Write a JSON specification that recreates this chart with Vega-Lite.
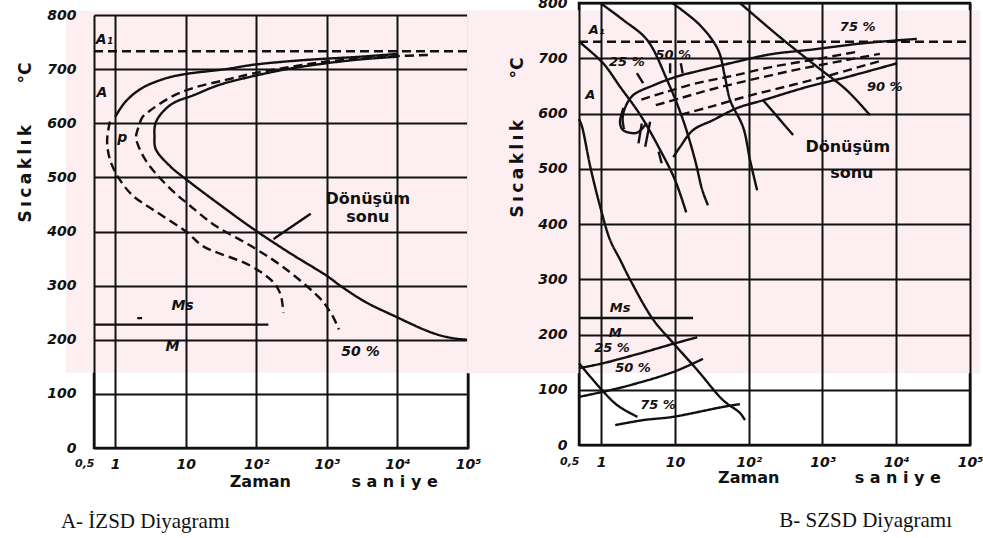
{
  "$schema": "https://vega.github.io/schema/vega-lite/v6.json",
  "background": "white",
  "padding": {"left": 14, "top": -6, "right": 0, "bottom": 0},
  "spacing": -18,
  "config": {
    "view": {"stroke": "#111", "strokeWidth": 2.5},
    "axis": {
      "grid": true, "gridColor": "#111", "gridWidth": 2, "gridOpacity": 1,
      "ticks": false, "domain": false, "labelOverlap": false,
      "labelFont": "DejaVu Sans", "labelFontStyle": "italic", "labelFontWeight": "bold",
      "labelFontSize": 14, "labelColor": "#111",
      "titleFont": "DejaVu Sans", "titleFontWeight": "bold", "titleFontSize": 17, "titleColor": "#111"
    },
    "text": {"font": "DejaVu Sans", "color": "#111"}
  },
  "datasets": {
    "izsd_tint": [{"t": 0.2, "t2": 143000, "T": 139, "T2": 808}],
    "szsd_tint": [{"t": 0.0152, "t2": 136000, "T": 130, "T2": 787}],
    "izsd_curves": [
      {"curve": "c1u", "style": "solid", "t": 1.0, "T": 612},
      {"curve": "c1u", "style": "solid", "t": 1.4, "T": 640},
      {"curve": "c1u", "style": "solid", "t": 2.4, "T": 665},
      {"curve": "c1u", "style": "solid", "t": 5.2, "T": 683},
      {"curve": "c1u", "style": "solid", "t": 10, "T": 691},
      {"curve": "c1u", "style": "solid", "t": 37, "T": 700},
      {"curve": "c1u", "style": "solid", "t": 90, "T": 708},
      {"curve": "c1u", "style": "solid", "t": 400, "T": 716},
      {"curve": "c1u", "style": "solid", "t": 3000, "T": 723},
      {"curve": "c1u", "style": "solid", "t": 10000, "T": 728},
      {"curve": "c1l", "style": "dashed", "t": 0.84, "T": 603},
      {"curve": "c1l", "style": "dashed", "t": 0.78, "T": 580},
      {"curve": "c1l", "style": "dashed", "t": 0.77, "T": 560},
      {"curve": "c1l", "style": "dashed", "t": 0.86, "T": 529},
      {"curve": "c1l", "style": "dashed", "t": 1.13, "T": 498},
      {"curve": "c1l", "style": "dashed", "t": 1.75, "T": 467},
      {"curve": "c1l", "style": "dashed", "t": 3.85, "T": 436},
      {"curve": "c1l", "style": "dashed", "t": 10.3, "T": 399},
      {"curve": "c1l", "style": "dashed", "t": 17.5, "T": 373},
      {"curve": "c1l", "style": "dashed", "t": 82, "T": 337},
      {"curve": "c1l", "style": "dashed", "t": 175, "T": 306},
      {"curve": "c1l", "style": "dashed", "t": 220, "T": 284},
      {"curve": "c1l", "style": "dashed", "t": 235, "T": 265},
      {"curve": "c1l", "style": "dashed", "t": 242, "T": 250},
      {"curve": "c2", "style": "dashed", "t": 27000, "T": 726},
      {"curve": "c2", "style": "dashed", "t": 10000, "T": 724},
      {"curve": "c2", "style": "dashed", "t": 1000, "T": 714},
      {"curve": "c2", "style": "dashed", "t": 300, "T": 704},
      {"curve": "c2", "style": "dashed", "t": 90, "T": 692},
      {"curve": "c2", "style": "dashed", "t": 37, "T": 680},
      {"curve": "c2", "style": "dashed", "t": 12.6, "T": 665},
      {"curve": "c2", "style": "dashed", "t": 6.5, "T": 650},
      {"curve": "c2", "style": "dashed", "t": 3.4, "T": 627},
      {"curve": "c2", "style": "dashed", "t": 2.45, "T": 612},
      {"curve": "c2", "style": "dashed", "t": 2.15, "T": 594},
      {"curve": "c2", "style": "dashed", "t": 1.97, "T": 575},
      {"curve": "c2", "style": "dashed", "t": 2.1, "T": 560},
      {"curve": "c2", "style": "dashed", "t": 2.6, "T": 535},
      {"curve": "c2", "style": "dashed", "t": 3.6, "T": 510},
      {"curve": "c2", "style": "dashed", "t": 6.5, "T": 475},
      {"curve": "c2", "style": "dashed", "t": 11.4, "T": 448},
      {"curve": "c2", "style": "dashed", "t": 26, "T": 411},
      {"curve": "c2", "style": "dashed", "t": 82, "T": 374},
      {"curve": "c2", "style": "dashed", "t": 242, "T": 334},
      {"curve": "c2", "style": "dashed", "t": 820, "T": 275},
      {"curve": "c2", "style": "dashed", "t": 1030, "T": 258},
      {"curve": "c2", "style": "dashed", "t": 1250, "T": 240},
      {"curve": "c2", "style": "dashed", "t": 1480, "T": 219},
      {"curve": "c3", "style": "solid", "t": 10000, "T": 723},
      {"curve": "c3", "style": "solid", "t": 3000, "T": 718},
      {"curve": "c3", "style": "solid", "t": 1000, "T": 711},
      {"curve": "c3", "style": "solid", "t": 300, "T": 701},
      {"curve": "c3", "style": "solid", "t": 90, "T": 687},
      {"curve": "c3", "style": "solid", "t": 30, "T": 671},
      {"curve": "c3", "style": "solid", "t": 13, "T": 652},
      {"curve": "c3", "style": "solid", "t": 6.6, "T": 637},
      {"curve": "c3", "style": "solid", "t": 4.5, "T": 618},
      {"curve": "c3", "style": "solid", "t": 3.8, "T": 603},
      {"curve": "c3", "style": "solid", "t": 3.6, "T": 590},
      {"curve": "c3", "style": "solid", "t": 3.6, "T": 578},
      {"curve": "c3", "style": "solid", "t": 3.73, "T": 553},
      {"curve": "c3", "style": "solid", "t": 5.84, "T": 522},
      {"curve": "c3", "style": "solid", "t": 10.2, "T": 496},
      {"curve": "c3", "style": "solid", "t": 30, "T": 450},
      {"curve": "c3", "style": "solid", "t": 90, "T": 405},
      {"curve": "c3", "style": "solid", "t": 300, "T": 360},
      {"curve": "c3", "style": "solid", "t": 1000, "T": 318},
      {"curve": "c3", "style": "solid", "t": 1580, "T": 299},
      {"curve": "c3", "style": "solid", "t": 3500, "T": 270},
      {"curve": "c3", "style": "solid", "t": 9000, "T": 244},
      {"curve": "c3", "style": "solid", "t": 30800, "T": 213},
      {"curve": "c3", "style": "solid", "t": 60000, "T": 203},
      {"curve": "c3", "style": "solid", "t": 100000, "T": 200},
      {"curve": "ms", "style": "solid", "t": 0.5, "T": 228},
      {"curve": "ms", "style": "solid", "t": 148, "T": 228},
      {"curve": "msdot", "style": "solid", "t": 2.05, "T": 240},
      {"curve": "msdot", "style": "solid", "t": 2.4, "T": 240},
      {"curve": "a1", "style": "dashed", "t": 0.5, "T": 733},
      {"curve": "a1", "style": "dashed", "t": 100000, "T": 733},
      {"curve": "ptr", "style": "solid", "t": 591, "T": 433},
      {"curve": "ptr", "style": "solid", "t": 175, "T": 386}
    ],
    "izsd_text": [
      {"kind": "curve", "text": "A₁", "t": 0.7, "T": 754},
      {"kind": "curve", "text": "A", "t": 0.65, "T": 655},
      {"kind": "curve", "text": "p", "t": 1.26, "T": 572},
      {"kind": "curve", "text": "Ms", "t": 9, "T": 262},
      {"kind": "curve", "text": "M", "t": 6.5, "T": 187},
      {"kind": "curve", "text": "50 %", "t": 3000, "T": 178},
      {"kind": "note", "text": "Dönüşüm", "t": 3800, "T": 460},
      {"kind": "note", "text": "sonu", "t": 3800, "T": 427},
      {"kind": "axis", "text": "Zaman", "t": 114, "T": -63},
      {"kind": "axis", "text": "s a n i y e", "t": 9100, "T": -63}
    ],
    "izsd_caption": [
      {"text": "A- İZSD Diyagramı", "t": 0.17, "T": -147}
    ],
    "szsd_curves": [
      {"curve": "cc0", "style": "solid", "t": 0.5, "T": 148},
      {"curve": "cc0", "style": "solid", "t": 0.97, "T": 103},
      {"curve": "cc0", "style": "solid", "t": 1.65, "T": 72},
      {"curve": "cc0", "style": "solid", "t": 3.1, "T": 51},
      {"curve": "cc1", "style": "solid", "t": 0.5, "T": 590},
      {"curve": "cc1", "style": "solid", "t": 0.55, "T": 576},
      {"curve": "cc1", "style": "solid", "t": 0.71, "T": 504},
      {"curve": "cc1", "style": "solid", "t": 0.97, "T": 431},
      {"curve": "cc1", "style": "solid", "t": 1.32, "T": 371},
      {"curve": "cc1", "style": "solid", "t": 1.81, "T": 335},
      {"curve": "cc1", "style": "solid", "t": 2.47, "T": 299},
      {"curve": "cc1", "style": "solid", "t": 5, "T": 228},
      {"curve": "cc1", "style": "solid", "t": 9.4, "T": 185},
      {"curve": "cc1", "style": "solid", "t": 20, "T": 136},
      {"curve": "cc1", "style": "solid", "t": 45, "T": 81},
      {"curve": "cc1", "style": "solid", "t": 76, "T": 58},
      {"curve": "cc1", "style": "solid", "t": 89, "T": 45},
      {"curve": "cc2", "style": "solid", "t": 0.5, "T": 730},
      {"curve": "cc2", "style": "solid", "t": 1.06, "T": 691},
      {"curve": "cc2", "style": "solid", "t": 1.81, "T": 648},
      {"curve": "cc2", "style": "solid", "t": 3.4, "T": 597},
      {"curve": "cc2", "style": "solid", "t": 6.3, "T": 534},
      {"curve": "cc2", "style": "solid", "t": 10, "T": 480},
      {"curve": "cc2", "style": "solid", "t": 14.2, "T": 421},
      {"curve": "cc3", "style": "solid", "t": 0.97, "T": 800},
      {"curve": "cc3", "style": "solid", "t": 2, "T": 769},
      {"curve": "cc3", "style": "solid", "t": 4.2, "T": 733},
      {"curve": "cc3", "style": "solid", "t": 7.8, "T": 661},
      {"curve": "cc3", "style": "solid", "t": 12.9, "T": 588},
      {"curve": "cc3", "style": "solid", "t": 18.7, "T": 516},
      {"curve": "cc3", "style": "solid", "t": 23.4, "T": 462},
      {"curve": "cc3", "style": "solid", "t": 28, "T": 434},
      {"curve": "cc4", "style": "solid", "t": 9.2, "T": 800},
      {"curve": "cc4", "style": "solid", "t": 21.8, "T": 760},
      {"curve": "cc4", "style": "solid", "t": 38.5, "T": 715},
      {"curve": "cc4", "style": "solid", "t": 47, "T": 670},
      {"curve": "cc4", "style": "solid", "t": 56, "T": 624},
      {"curve": "cc4", "style": "solid", "t": 84, "T": 575},
      {"curve": "cc4", "style": "solid", "t": 104, "T": 516},
      {"curve": "cc4", "style": "solid", "t": 130, "T": 461},
      {"curve": "cc5", "style": "solid", "t": 76, "T": 800},
      {"curve": "cc5", "style": "solid", "t": 266, "T": 738},
      {"curve": "cc5", "style": "solid", "t": 836, "T": 685},
      {"curve": "cc5", "style": "solid", "t": 2140, "T": 642},
      {"curve": "cc5", "style": "solid", "t": 4400, "T": 597},
      {"curve": "start", "style": "solid", "t": 2.05, "T": 572},
      {"curve": "start", "style": "solid", "t": 1.95, "T": 590},
      {"curve": "start", "style": "solid", "t": 2.1, "T": 610},
      {"curve": "start", "style": "solid", "t": 2.7, "T": 633},
      {"curve": "start", "style": "solid", "t": 5.1, "T": 651},
      {"curve": "start", "style": "solid", "t": 10.7, "T": 667},
      {"curve": "start", "style": "solid", "t": 24, "T": 679},
      {"curve": "start", "style": "solid", "t": 70, "T": 694},
      {"curve": "start", "style": "solid", "t": 195, "T": 707},
      {"curve": "start", "style": "solid", "t": 750, "T": 716},
      {"curve": "start", "style": "solid", "t": 3500, "T": 727},
      {"curve": "start", "style": "solid", "t": 19000, "T": 735},
      {"curve": "end", "style": "solid", "t": 9.5, "T": 521},
      {"curve": "end", "style": "solid", "t": 11.8, "T": 540},
      {"curve": "end", "style": "solid", "t": 17.6, "T": 570},
      {"curve": "end", "style": "solid", "t": 32.8, "T": 588},
      {"curve": "end", "style": "solid", "t": 70, "T": 610},
      {"curve": "end", "style": "solid", "t": 157, "T": 624},
      {"curve": "end", "style": "solid", "t": 616, "T": 648},
      {"curve": "end", "style": "solid", "t": 2140, "T": 666},
      {"curve": "end", "style": "solid", "t": 10300, "T": 691},
      {"curve": "d25", "style": "dashed", "t": 3.5, "T": 625},
      {"curve": "d25", "style": "dashed", "t": 8, "T": 640},
      {"curve": "d25", "style": "dashed", "t": 20, "T": 655},
      {"curve": "d25", "style": "dashed", "t": 60, "T": 668},
      {"curve": "d25", "style": "dashed", "t": 200, "T": 684},
      {"curve": "d25", "style": "dashed", "t": 800, "T": 698},
      {"curve": "d25", "style": "dashed", "t": 3000, "T": 712},
      {"curve": "d50", "style": "dashed", "t": 5.5, "T": 615},
      {"curve": "d50", "style": "dashed", "t": 12, "T": 628},
      {"curve": "d50", "style": "dashed", "t": 30, "T": 643},
      {"curve": "d50", "style": "dashed", "t": 100, "T": 660},
      {"curve": "d50", "style": "dashed", "t": 400, "T": 678},
      {"curve": "d50", "style": "dashed", "t": 1500, "T": 693},
      {"curve": "d50", "style": "dashed", "t": 6000, "T": 708},
      {"curve": "d75", "style": "dashed", "t": 12, "T": 598},
      {"curve": "d75", "style": "dashed", "t": 30, "T": 612},
      {"curve": "d75", "style": "dashed", "t": 100, "T": 632},
      {"curve": "d75", "style": "dashed", "t": 400, "T": 652},
      {"curve": "d75", "style": "dashed", "t": 1500, "T": 672},
      {"curve": "d75", "style": "dashed", "t": 6000, "T": 695},
      {"curve": "box", "style": "solid", "t": 2.0, "T": 610},
      {"curve": "box", "style": "solid", "t": 1.91, "T": 601},
      {"curve": "box", "style": "solid", "t": 1.8, "T": 583},
      {"curve": "box", "style": "solid", "t": 1.98, "T": 570},
      {"curve": "box", "style": "solid", "t": 3.03, "T": 565},
      {"curve": "box", "style": "solid", "t": 4.14, "T": 583},
      {"curve": "h1", "style": "solid", "t": 3.55, "T": 582},
      {"curve": "h1", "style": "solid", "t": 3.2, "T": 546},
      {"curve": "h2", "style": "solid", "t": 4.6, "T": 585},
      {"curve": "h2", "style": "solid", "t": 3.95, "T": 540},
      {"curve": "h3", "style": "solid", "t": 6.0, "T": 531},
      {"curve": "h3", "style": "solid", "t": 6.6, "T": 510},
      {"curve": "tick25", "style": "solid", "t": 3.05, "T": 673},
      {"curve": "tick25", "style": "solid", "t": 3.7, "T": 655},
      {"curve": "tick50a", "style": "solid", "t": 8.6, "T": 691},
      {"curve": "tick50a", "style": "solid", "t": 8.6, "T": 673},
      {"curve": "tick50b", "style": "solid", "t": 12, "T": 691},
      {"curve": "tick50b", "style": "solid", "t": 12.7, "T": 673},
      {"curve": "ms", "style": "solid", "t": 0.5, "T": 230},
      {"curve": "ms", "style": "solid", "t": 17.6, "T": 230},
      {"curve": "a1", "style": "dashed", "t": 0.5, "T": 730},
      {"curve": "a1", "style": "dashed", "t": 100000, "T": 730},
      {"curve": "m25", "style": "solid", "t": 0.5, "T": 139},
      {"curve": "m25", "style": "solid", "t": 1.06, "T": 148},
      {"curve": "m25", "style": "solid", "t": 3.4, "T": 166},
      {"curve": "m25", "style": "solid", "t": 9.4, "T": 183},
      {"curve": "m25", "style": "solid", "t": 20, "T": 195},
      {"curve": "m50", "style": "solid", "t": 0.5, "T": 87},
      {"curve": "m50", "style": "solid", "t": 1.98, "T": 105},
      {"curve": "m50", "style": "solid", "t": 9.4, "T": 132},
      {"curve": "m50", "style": "solid", "t": 24, "T": 156},
      {"curve": "m75", "style": "solid", "t": 1.55, "T": 36},
      {"curve": "m75", "style": "solid", "t": 3.7, "T": 45},
      {"curve": "m75", "style": "solid", "t": 9.4, "T": 51},
      {"curve": "m75", "style": "solid", "t": 45, "T": 69},
      {"curve": "m75", "style": "solid", "t": 76, "T": 74},
      {"curve": "ptr", "style": "solid", "t": 400, "T": 561},
      {"curve": "ptr", "style": "solid", "t": 157, "T": 624}
    ],
    "szsd_text": [
      {"kind": "curve", "text": "A₁", "t": 0.87, "T": 751},
      {"kind": "curve", "text": "A", "t": 0.71, "T": 633},
      {"kind": "curve", "text": "25 %", "t": 2.23, "T": 694},
      {"kind": "curve", "text": "50 %", "t": 9.5, "T": 706},
      {"kind": "curve", "text": "75 %", "t": 3000, "T": 757},
      {"kind": "curve", "text": "90 %", "t": 7000, "T": 648},
      {"kind": "curve", "text": "Ms", "t": 1.8, "T": 248},
      {"kind": "curve", "text": "M", "t": 1.55, "T": 203},
      {"kind": "curve", "text": "25 %", "t": 1.4, "T": 176},
      {"kind": "curve", "text": "50 %", "t": 2.7, "T": 139},
      {"kind": "curve", "text": "75 %", "t": 5.9, "T": 72},
      {"kind": "note", "text": "Dönüşüm", "t": 2200, "T": 540},
      {"kind": "note", "text": "sonu", "t": 2500, "T": 492},
      {"kind": "axis", "text": "Zaman", "t": 100, "T": -60},
      {"kind": "axis", "text": "s a n i y e", "t": 10500, "T": -60}
    ],
    "szsd_caption": [
      {"text": "B- SZSD Diyagramı", "t": 57000, "T": -148}
    ]
  },
  "hconcat": [
    {
      "spacing": -1,
      "vconcat": [
        {
          "width": 374,
          "height": 1,
          "view": {"stroke": null},
          "data": {"values": [{"t": 1}]},
          "mark": {"type": "point", "opacity": 0},
          "encoding": {}
        },
        {
          "width": 374,
          "height": 433,
          "layer": [
            {
              "data": {"name": "izsd_tint"},
              "mark": {"type": "rect", "color": "#fdeef1"},
              "encoding": {
                "x": {"field": "t", "type": "quantitative"}, "x2": {"field": "t2"},
                "y": {"field": "T", "type": "quantitative"}, "y2": {"field": "T2"}
              }
            },
            {
              "data": {"name": "izsd_curves"},
              "mark": {"type": "line", "color": "#111", "strokeWidth": 2.4, "interpolate": "catmull-rom"},
              "encoding": {
                "x": {"field": "t", "type": "quantitative",
                      "scale": {"type": "log", "domain": [0.5, 100000], "nice": false},
                      "axis": {"zindex": 1, "values": [0.5, 1, 10, 100, 1000, 10000, 100000], "title": null, "labelPadding": 9,
                               "labelFontSize": {"condition": {"test": "datum.value < 0.9", "value": 11}, "value": 14},
                               "labelAlign": {"condition": {"test": "datum.value < 0.9", "value": "right"}, "value": "center"},
                               "labelExpr": "datum.value < 0.9 ? '0,5' : datum.value < 2 ? '1' : datum.value < 20 ? '10' : datum.value < 200 ? '10²' : datum.value < 2000 ? '10³' : datum.value < 20000 ? '10⁴' : '10⁵'"}},
                "y": {"field": "T", "type": "quantitative",
                      "scale": {"domain": [0, 800], "nice": false},
                      "axis": {"zindex": 1, "values": [0, 100, 200, 300, 400, 500, 600, 700, 800], "labelPadding": 18,
                               "title": "S\u2009ı\u2009c\u2009a\u2009k\u2009l\u2009ı\u2009k\u00a0\u00a0\u00a0\u00a0\u00a0\u00a0\u00a0°C", "titleX": -69, "titleY": 127, "titleAlign": "center", "titleBaseline": "middle"}},
                "detail": {"field": "curve"},
                "strokeDash": {"field": "style", "type": "nominal",
                               "scale": {"domain": ["solid", "dashed"], "range": [[1, 0], [9, 5]]}, "legend": null},
                "order": {"value": null}
              }
            },
            {
              "data": {"name": "izsd_text"},
              "transform": [{"filter": "datum.kind == 'curve'"}],
              "mark": {"type": "text", "fontStyle": "italic", "fontWeight": "bold", "fontSize": 14},
              "encoding": {"x": {"field": "t", "type": "quantitative"}, "y": {"field": "T", "type": "quantitative"}, "text": {"field": "text"}}
            },
            {
              "data": {"name": "izsd_text"},
              "transform": [{"filter": "datum.kind != 'curve'"}],
              "mark": {"type": "text", "fontWeight": "bold", "fontSize": 16},
              "encoding": {"x": {"field": "t", "type": "quantitative"}, "y": {"field": "T", "type": "quantitative"}, "text": {"field": "text"}}
            },
            {
              "data": {"name": "izsd_caption"},
              "mark": {"type": "text", "font": "Liberation Serif", "fontSize": 21, "align": "left", "baseline": "alphabetic"},
              "encoding": {"x": {"field": "t", "type": "quantitative"}, "y": {"field": "T", "type": "quantitative"}, "text": {"field": "text"}}
            }
          ]
        }
      ]
    },
    {
      "width": 391,
      "height": 442,
      "layer": [
        {
          "data": {"name": "szsd_tint"},
          "mark": {"type": "rect", "color": "#fdeef1"},
          "encoding": {
            "x": {"field": "t", "type": "quantitative"}, "x2": {"field": "t2"},
            "y": {"field": "T", "type": "quantitative"}, "y2": {"field": "T2"}
          }
        },
        {
          "data": {"name": "szsd_curves"},
          "mark": {"type": "line", "color": "#111", "strokeWidth": 2.4, "interpolate": "catmull-rom"},
          "encoding": {
            "x": {"field": "t", "type": "quantitative",
                  "scale": {"type": "log", "domain": [0.5, 100000], "nice": false},
                  "axis": {"zindex": 1, "values": [0.5, 1, 10, 100, 1000, 10000, 100000], "title": null, "labelPadding": 10,
                           "labelFontSize": {"condition": {"test": "datum.value < 0.9", "value": 11}, "value": 14},
                           "labelAlign": {"condition": {"test": "datum.value < 0.9", "value": "right"}, "value": "center"},
                           "labelExpr": "datum.value < 0.9 ? '0,5' : datum.value < 2 ? '1' : datum.value < 20 ? '10' : datum.value < 200 ? '10²' : datum.value < 2000 ? '10³' : datum.value < 20000 ? '10⁴' : '10⁵'"}},
            "y": {"field": "T", "type": "quantitative",
                  "scale": {"domain": [0, 800], "nice": false},
                  "axis": {"zindex": 1, "values": [0, 100, 200, 300, 400, 500, 600, 700, 800], "labelPadding": 12,
                           "title": "S\u2009ı\u2009c\u2009a\u2009k\u2009l\u2009ı\u2009k\u00a0\u00a0\u00a0\u00a0\u00a0\u00a0\u00a0°C", "titleX": -62, "titleY": 134, "titleAlign": "center", "titleBaseline": "middle"}},
            "detail": {"field": "curve"},
            "strokeDash": {"field": "style", "type": "nominal",
                           "scale": {"domain": ["solid", "dashed"], "range": [[1, 0], [9, 5]]}, "legend": null},
            "order": {"value": null}
          }
        },
        {
          "data": {"name": "szsd_text"},
          "transform": [{"filter": "datum.kind == 'curve'"}],
          "mark": {"type": "text", "fontStyle": "italic", "fontWeight": "bold", "fontSize": 13},
          "encoding": {"x": {"field": "t", "type": "quantitative"}, "y": {"field": "T", "type": "quantitative"}, "text": {"field": "text"}}
        },
        {
          "data": {"name": "szsd_text"},
          "transform": [{"filter": "datum.kind != 'curve'"}],
          "mark": {"type": "text", "fontWeight": "bold", "fontSize": 16},
          "encoding": {"x": {"field": "t", "type": "quantitative"}, "y": {"field": "T", "type": "quantitative"}, "text": {"field": "text"}}
        },
        {
          "data": {"name": "szsd_caption"},
          "mark": {"type": "text", "font": "Liberation Serif", "fontSize": 21, "align": "right", "baseline": "alphabetic"},
          "encoding": {"x": {"field": "t", "type": "quantitative"}, "y": {"field": "T", "type": "quantitative"}, "text": {"field": "text"}}
        }
      ]
    }
  ]
}
